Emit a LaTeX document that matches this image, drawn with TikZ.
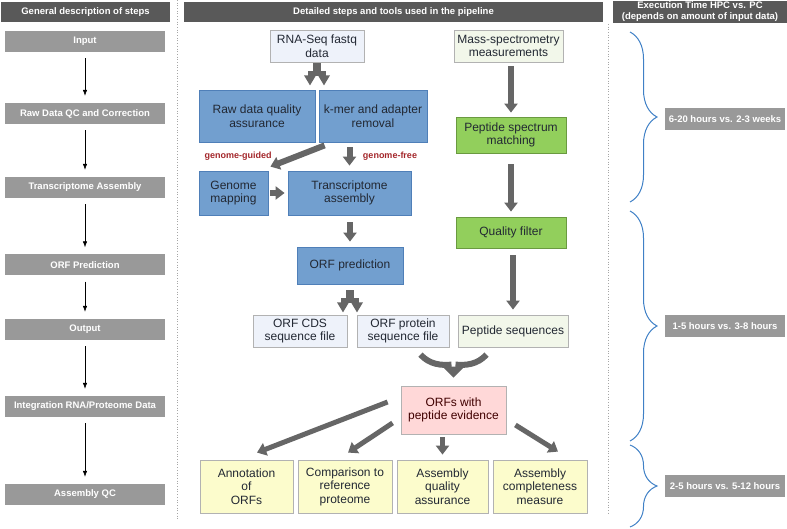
\documentclass[tikz,border=0pt]{standalone}
\usepackage{fontspec}
\setmainfont{Liberation Sans}
\usetikzlibrary{arrows.meta,decorations.pathreplacing}
\definecolor{headgray}{HTML}{595959}
\definecolor{stepgray}{HTML}{999999}
\definecolor{boxblue}{HTML}{729FCF}
\definecolor{lineblue}{HTML}{4F7FB8}
\definecolor{boxgreen}{HTML}{92CF5C}
\definecolor{linegreen}{HTML}{6A9A40}
\definecolor{paleblue}{HTML}{EEF2FA}
\definecolor{palegreen}{HTML}{F2F7EA}
\definecolor{palepink}{HTML}{FFD8D8}
\definecolor{paleyellow}{HTML}{FCFCCC}
\definecolor{arrowgray}{HTML}{666666}
\definecolor{bracecol}{HTML}{3F80C6}
\definecolor{tagred}{HTML}{A3262A}
\definecolor{inkcol}{HTML}{222833}

\begin{document}
\begin{tikzpicture}[x=1pt,y=-1pt,
  headbar/.style={fill=headgray,text=white,font=\fontsize{9.5}{11}\selectfont\bfseries,align=center,inner sep=0pt,minimum height=20pt},
  stepbox/.style={fill=stepgray,text=white,font=\fontsize{9.5}{11}\selectfont\bfseries,inner sep=0pt,minimum width=160pt,minimum height=21pt},
  timebox/.style={stepbox,minimum width=120pt,minimum height=22pt},
  toolbox/.style={draw,line width=0.8pt,text=inkcol,font=\fontsize{12}{13.5}\selectfont,align=center,inner sep=0pt},
  bluebox/.style={toolbox,fill=boxblue,draw=lineblue},
  greenbox/.style={toolbox,fill=boxgreen,draw=linegreen},
  filebox/.style={toolbox,fill=paleblue,draw=black!30,minimum height=32pt},
  pepbox/.style={toolbox,fill=palegreen,draw=black!30,minimum height=32pt},
  hitbox/.style={toolbox,fill=palepink,draw=black!30},
  qcbox/.style={toolbox,fill=paleyellow,draw=black!30,minimum width=93pt,minimum height=53pt},
  flow/.style={line width=0.6pt,-{Latex[length=6pt,width=4.5pt]},shorten <=6pt,shorten >=7pt},
  fat/.style={arrowgray,line width=6pt,-{Triangle[length=9pt,width=13pt]}},
  routetag/.style={text=tagred,font=\fontsize{9}{10}\selectfont\bfseries},
  timebrace/.style={bracecol,line width=1pt,decorate,decoration={brace,amplitude=27pt}},
  splitarrow/.pic={
    \fill[arrowgray] (-4,0) rectangle (4,10);
    \fill[arrowgray] (-9,8) rectangle (9,13);
    \fill[arrowgray] (-13,12) -- (-1,12) -- (-7,22) -- cycle;
    \fill[arrowgray] (1,12) -- (13,12) -- (7,22) -- cycle;},
  mergearrow/.pic={
    \draw[arrowgray,line width=6pt] (-33,-23) .. controls (-24,-13) and (-12,-12) .. (-2,-13);
    \draw[arrowgray,line width=6pt] (33,-23) .. controls (24,-13) and (12,-12) .. (2,-13);
    \fill[arrowgray] (-11,-11) -- (11,-11) -- (0,0) -- cycle;}
]
\useasboundingbox (0,0) rectangle (787,529);

% headers
\node[headbar,minimum width=169pt] (hgen) at (85.5,12) {General description of steps};
\node[headbar,minimum width=419pt] (hdet) at (393.5,12) {Detailed steps and tools used in the pipeline};
\node[headbar,minimum width=174pt,minimum height=22pt] (htime) at (700,12) {Execution Time HPC vs. PC\\(depends on amount of input data)};
\draw[black!35,dotted,line width=0.7pt] (177,0) -- (177,520);
\draw[black!35,dotted,line width=0.7pt] (608,24) -- (608,513);

% general steps
\foreach \n/\yy/\txt in {s1/41.5/Input, s2/113.5/Raw Data QC and Correction, s3/187.5/Transcriptome Assembly,
    s4/265/ORF Prediction, s5/329.5/Output, s6/406.5/{Integration RNA/Proteome Data}, s7/494.5/Assembly QC}
  \node[stepbox] (\n) at (85,\yy) {\txt};
\foreach \a/\b in {s1/s2,s2/s3,s3/s4,s4/s5,s5/s6,s6/s7}
  \draw[flow] (\a) -- (\b);

% RNA side
\node[filebox,minimum width=94pt] (rna) at (317,46) {RNA-Seq fastq\\data};
\node[bluebox,minimum width=116pt,minimum height=52pt] (rawqa) at (257,116) {Raw data quality\\assurance};
\node[bluebox,minimum width=108pt,minimum height=52pt] (kmer) at (373,116) {k-mer and adapter\\removal};
\node[bluebox,minimum width=69pt,minimum height=44pt] (gmap) at (233.5,193) {Genome\\mapping};
\node[bluebox,minimum width=123pt,minimum height=44pt] (tasm) at (349.5,193) {Transcriptome\\assembly};
\node[bluebox,minimum width=106pt,minimum height=37pt] (orfp) at (350,265.5) {ORF prediction};
\node[filebox,minimum width=94pt] (cds) at (300,331) {ORF CDS\\sequence file};
\node[filebox,minimum width=92pt] (prot) at (403,331) {ORF protein\\sequence file};
\node[routetag] (guided) at (238,156) {genome-guided};
\node[routetag] (free) at (390,156) {genome-free};

% proteome side
\node[pepbox,minimum width=109pt] (ms) at (508.5,46) {Mass-spectrometry\\measurements};
\node[greenbox,minimum width=110pt,minimum height=36pt] (psm) at (511,135) {Peptide spectrum\\matching};
\node[greenbox,minimum width=110pt,minimum height=31pt] (qf) at (511,232.5) {Quality filter};
\node[pepbox,minimum width=110pt] (pep) at (513,331) {Peptide sequences};

% integration and QC
\node[hitbox,minimum width=105pt,minimum height=48pt,text=black!75!red] (orfpep) at (453.5,410) {ORFs with\\peptide evidence};
\node[qcbox] (annot) at (246.5,486.5) {Annotation\\of\\ORFs};
\node[qcbox,minimum width=94pt] (comp) at (345,486.5) {Comparison to\\reference\\proteome};
\node[qcbox,minimum width=91pt] (aqa) at (442.5,486.5) {Assembly\\quality\\assurance};
\node[qcbox,minimum width=94pt] (acm) at (540,486.5) {Assembly\\completeness\\measure};

% fat arrows
\pic at ([yshift=-1pt]rna.south) {splitarrow};
\pic at ([yshift=-6pt]orfp.south) {splitarrow};
\draw[fat] ([shift={(6,3)}]kmer.south west) -- ([shift={(2,-4)}]gmap.north east);
\draw[fat,shorten <=5pt,shorten >=5pt] (tasm.north |- kmer.south) -- (tasm.north);
\draw[fat,shorten <=2pt,shorten >=3pt] (gmap.east) -- (tasm.west);
\draw[fat,shorten <=7pt,shorten >=5pt] (orfp.north |- tasm.south) -- (orfp.north);
\draw[fat,shorten <=4pt,shorten >=4pt] (psm.north |- ms.south) -- (psm.north);
\draw[fat,shorten <=11pt,shorten >=5pt] (psm) -- (qf);
\draw[fat,shorten <=7pt,shorten >=5pt] (qf.south -| pep.north) -- (pep.north);
\pic at ([yshift=8pt]orfpep.north) {mergearrow};
\draw[fat,line width=5pt] ([shift={(-13,-8)}]orfpep.west) -- ([shift={(10.5,-7)}]annot.north);
\draw[fat,line width=5pt] ([shift={(-8,13)}]orfpep.west) -- ([shift={(3,-7)}]comp.north);
\draw[fat,line width=5pt,shorten <=3pt,shorten >=5pt] (aqa.north |- orfpep.south) -- (aqa.north);
\draw[fat,line width=5pt] ([shift={(9,15)}]orfpep.east) -- ([shift={(18,-8)}]acm.north);

% execution times
\node[timebox] (t1) at (725,119) {6-20 hours vs. 2-3 weeks};
\node[timebox] (t2) at (725,326) {1-5 hours vs. 3-8 hours};
\node[timebox] (t3) at (725,486) {2-5 hours vs. 5-12 hours};
\draw[timebrace] (630,32) -- (630,202);
\draw[timebrace] (630,211) -- (630,441);
\draw[timebrace] (630,445) -- (630,527);
\end{tikzpicture}
\end{document}
